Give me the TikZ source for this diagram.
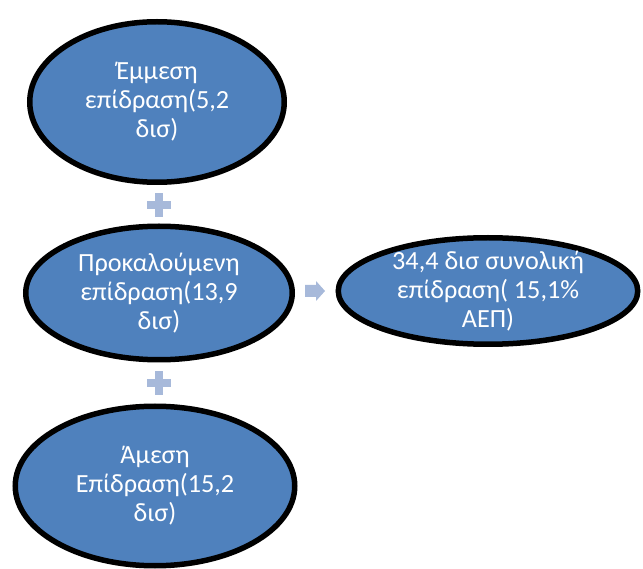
\documentclass[tikz,border=0pt]{standalone}
\usepackage{fontspec}
\setmainfont{Carlito}
\usetikzlibrary{shapes.geometric}
\definecolor{effectblue}{HTML}{4F81BD}
\definecolor{signblue}{HTML}{A7B9DA}

\begin{document}
\begin{tikzpicture}[
	x=1pt, y=1pt,
	effectbox/.style={ellipse, draw=black, line width=5.5pt, fill=effectblue, inner sep=0pt},
	effecttext/.style={text=white, align=center, font=\fontsize{26.2}{29}\selectfont},
	plussign/.style={minimum size=24pt, inner sep=0pt, path picture={
		\fill[signblue] ([xshift=-12pt,yshift=-4pt]path picture bounding box.center) rectangle ++(24pt,8pt);
		\fill[signblue] ([xshift=-4pt,yshift=-12pt]path picture bounding box.center) rectangle ++(8pt,24pt);}},
	givesarrow/.style={minimum width=20pt, minimum height=20pt, inner sep=0pt, path picture={
		\fill[signblue] ([xshift=-10pt,yshift=-6pt]path picture bounding box.center) -- ++(11pt,0) -- ++(0,-4pt)
			-- ++(9pt,10pt) -- ++(-9pt,10pt) -- ++(0,-4pt) -- ++(-11pt,0) -- cycle;}}
	]
	\useasboundingbox (0,0) rectangle (643,-569);
	\node[effectbox, minimum width=254.5pt, minimum height=160.5pt, label={[effecttext]center:Έμμεση\\επίδραση(5,2\\δισ)}] (indirect) at (157,-102) {};
	\node[effectbox, minimum width=266.5pt, minimum height=133.5pt, label={[effecttext]center:Προκαλούμενη\\επίδραση(13,9\\δισ)}] (induced) at (159,-293) {};
	\node[effectbox, minimum width=279.5pt, minimum height=159.5pt, label={[effecttext]center:Άμεση\\Επίδραση(15,2\\δισ)}] (direct) at (155,-486) {};
	\node[effectbox, minimum width=299.5pt, minimum height=106.5pt, label={[effecttext]center:34,4 δισ συνολική\\επίδραση( 15,1\%\\ΑΕΠ)}] (total) at (488,-291) {};
	\node[plussign] (plusup) at (159,-205) {};
	\node[plussign] (plusdown) at (159,-383) {};
	\node[givesarrow] (equals) at (315,-291) {};
\end{tikzpicture}
\end{document}
